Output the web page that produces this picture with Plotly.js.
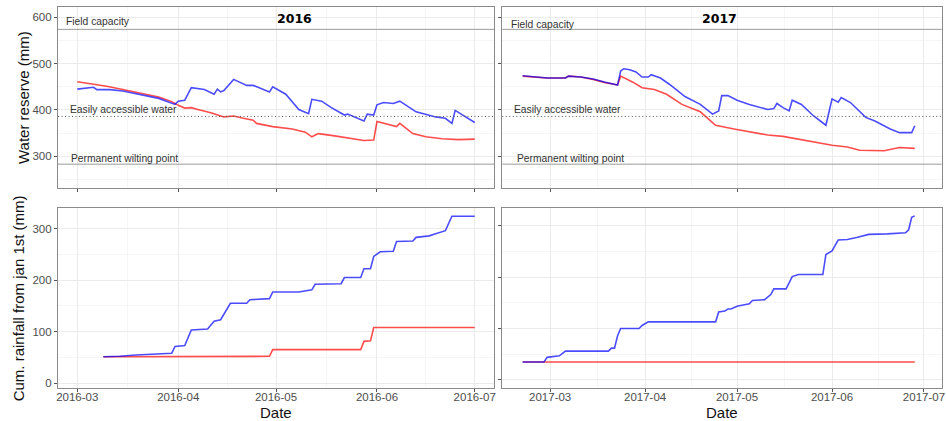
<!DOCTYPE html>
<html>
<head>
<meta charset="utf-8">
<script src="https://cdn.plot.ly/plotly-3.0.1.min.js"></script>
<style>html,body{margin:0;padding:0;background:#fff;}#chart{width:946px;height:421px;}</style>
</head>
<body>
<div id="chart"></div>
<script>
// ---------- DATA ----------
// Water reserve 2016
const resRedDates2016 = ['2016-03-01','2016-03-06','2016-03-10','2016-03-15','2016-03-20','2016-03-26','2016-03-30','2016-04-01','2016-04-03','2016-04-05','2016-04-07','2016-04-11','2016-04-15','2016-04-18','2016-04-21','2016-04-24','2016-04-25','2016-04-30','2016-05-06','2016-05-10','2016-05-12','2016-05-14','2016-05-19','2016-05-24','2016-05-28','2016-05-31','2016-06-01','2016-06-07','2016-06-08','2016-06-12','2016-06-16','2016-06-21','2016-06-26','2016-07-01'];
const resRed2016 = [461,456,451,444,436,428,418,410,404,405,401,394,385,387,382,378,371,364,359,352,342,349,344,339,334,335,375,364,371,349,342,338,336,337];
const resBlueDates2016 = ['2016-03-01','2016-03-06','2016-03-07','2016-03-11','2016-03-15','2016-03-20','2016-03-26','2016-03-31','2016-04-01','2016-04-03','2016-04-05','2016-04-09','2016-04-12','2016-04-13','2016-04-14','2016-04-15','2016-04-18','2016-04-22','2016-04-24','2016-04-29','2016-04-30','2016-05-04','2016-05-08','2016-05-11','2016-05-12','2016-05-15','2016-05-18','2016-05-22','2016-05-23','2016-05-28','2016-05-29','2016-05-31','2016-06-01','2016-06-03','2016-06-06','2016-06-08','2016-06-13','2016-06-19','2016-06-22','2016-06-24','2016-06-25','2016-07-01'];
const resBlue2016 = [445,449,444,444,441,434,425,412,419,421,448,444,434,445,439,442,466,453,453,439,450,434,401,392,423,419,405,389,391,376,391,389,411,416,414,419,396,385,382,371,399,373];

// Water reserve 2017
const resRedDates2017 = ['2017-02-20','2017-02-24','2017-02-28','2017-03-06','2017-03-07','2017-03-11','2017-03-15','2017-03-19','2017-03-23','2017-03-24','2017-03-28','2017-03-31','2017-04-04','2017-04-08','2017-04-13','2017-04-19','2017-04-24','2017-04-30','2017-05-05','2017-05-11','2017-05-16','2017-05-22','2017-05-27','2017-06-01','2017-06-06','2017-06-10','2017-06-18','2017-06-23','2017-06-28'];
const resRed2017 = [473,471,469,469,473,471,466,459,454,473,460,448,444,434,412,396,367,359,353,346,343,336,330,324,320,313,312,319,317];
const resBlueDates2017 = ['2017-02-20','2017-02-24','2017-02-28','2017-03-06','2017-03-07','2017-03-11','2017-03-15','2017-03-19','2017-03-23','2017-03-24','2017-03-25','2017-03-27','2017-03-29','2017-03-31','2017-04-02','2017-04-03','2017-04-06','2017-04-09','2017-04-14','2017-04-19','2017-04-23','2017-04-25','2017-04-26','2017-04-28','2017-05-01','2017-05-05','2017-05-08','2017-05-11','2017-05-13','2017-05-14','2017-05-16','2017-05-18','2017-05-19','2017-05-22','2017-05-26','2017-05-30','2017-06-01','2017-06-03','2017-06-04','2017-06-07','2017-06-12','2017-06-15','2017-06-20','2017-06-23','2017-06-27','2017-06-28'];
const resBlue2017 = [474,471,469,469,473,471,467,460,454,484,489,487,482,471,471,476,469,455,429,412,391,398,431,431,421,412,407,401,403,414,405,398,421,412,387,367,424,417,427,416,384,376,359,351,351,366];

// Cumulative rainfall 2016
const rainRedDates2016 = ['2016-03-09','2016-04-29','2016-04-30','2016-05-27','2016-05-28','2016-05-30','2016-05-31','2016-07-01'];
const rainRed2016 = [51,52,65,65,81,82,108,108];
const rainBlueDates2016 = ['2016-03-09','2016-03-14','2016-03-19','2016-03-24','2016-03-30','2016-03-31','2016-04-03','2016-04-05','2016-04-10','2016-04-12','2016-04-14','2016-04-17','2016-04-22','2016-04-23','2016-04-25','2016-04-29','2016-04-30','2016-05-08','2016-05-12','2016-05-13','2016-05-21','2016-05-22','2016-05-27','2016-05-28','2016-05-30','2016-05-31','2016-06-02','2016-06-06','2016-06-07','2016-06-12','2016-06-13','2016-06-17','2016-06-19','2016-06-22','2016-06-24','2016-07-01'];
const rainBlue2016 = [51,52,54.5,56.5,58,71,73,103,105,120,123,155,155,162,163,164,177,177,181,192,193,205,205,222,222,246,255,256,275,276,283,286,290,296,324,324];

// Cumulative rainfall 2017
const rainRedDates2017 = ['2017-02-20','2017-06-28'];
const rainRed2017 = [35,35];
const rainBlueDates2017 = ['2017-02-20','2017-02-27','2017-02-28','2017-03-02','2017-03-04','2017-03-06','2017-03-20','2017-03-21','2017-03-22','2017-03-23','2017-03-24','2017-03-30','2017-03-31','2017-04-02','2017-04-24','2017-04-25','2017-04-27','2017-04-28','2017-04-29','2017-05-01','2017-05-05','2017-05-06','2017-05-10','2017-05-12','2017-05-13','2017-05-17','2017-05-19','2017-05-21','2017-05-29','2017-05-30','2017-06-01','2017-06-03','2017-06-06','2017-06-09','2017-06-13','2017-06-19','2017-06-25','2017-06-26','2017-06-27','2017-06-28'];
const rainBlue2017 = [35,35,44,46,47,56,56,62,62,86,100,100,106,113,113,132,134,138,138,143.5,148,154.5,156,166,177,177,201,205,205,244,251,272,273,277,283,284,286,292,316,319];

// Reference levels (mm)
const levelNames = ['Field capacity','Easily accessible water','Permanent wilting point'];
const levelValues = [574, 386, 283];

// Axis ticks / labels
const panelTitles = ['2016','2017'];
const monthTicks2016 = ['2016-03-01','2016-04-01','2016-05-01','2016-06-01','2016-07-01'];
const monthTicks2017 = ['2017-03-01','2017-04-01','2017-05-01','2017-06-01','2017-07-01'];
const reserveTicks = [300,400,500,600];
const rainTicks = [0,100,200,300];
const yTitleTop = 'Water reserve (mm)';
const yTitleBottom = 'Cum. rainfall from jan 1st (mm)';
const xTitle = 'Date';

// ---------- STYLE / LAYOUT ----------
const W = 946, H = 421;
const px = v => v / W;
const py = v => 1 - v / H;
const RED = 'rgba(255,0,0,0.7)', BLUE = 'rgba(0,0,255,0.7)';
const FONT = 'Liberation Sans, Arial, sans-serif';

function midpointsDates(arr){
  const out=[];
  for(let i=0;i<arr.length-1;i++){
    const a=new Date(arr[i]+'T00:00:00Z').getTime(), b=new Date(arr[i+1]+'T00:00:00Z').getTime();
    const m=new Date((a+b)/2);
    out.push(m.toISOString().slice(0,19).replace('T',' '));
  }
  return out;
}
function midpointsNum(arr){const o=[];for(let i=0;i<arr.length-1;i++)o.push((arr[i]+arr[i+1])/2);if(arr.length>1){o.unshift(arr[0]-(arr[1]-arr[0])/2);o.push(arr[arr.length-1]+(arr[1]-arr[0])/2);}return o;}

const line = c => ({color:c, width:1.6});
const traces = [
  {x:resRedDates2016, y:resRed2016, xaxis:'x', yaxis:'y', mode:'lines', line:line(RED)},
  {x:resBlueDates2016, y:resBlue2016, xaxis:'x', yaxis:'y', mode:'lines', line:line(BLUE)},
  {x:resRedDates2017, y:resRed2017, xaxis:'x2', yaxis:'y2', mode:'lines', line:line(RED)},
  {x:resBlueDates2017, y:resBlue2017, xaxis:'x2', yaxis:'y2', mode:'lines', line:line(BLUE)},
  {x:rainRedDates2016, y:rainRed2016, xaxis:'x3', yaxis:'y3', mode:'lines', line:line(RED)},
  {x:rainBlueDates2016, y:rainBlue2016, xaxis:'x3', yaxis:'y3', mode:'lines', line:line(BLUE)},
  {x:rainRedDates2017, y:rainRed2017, xaxis:'x4', yaxis:'y4', mode:'lines', line:line(RED)},
  {x:rainBlueDates2017, y:rainBlue2017, xaxis:'x4', yaxis:'y4', mode:'lines', line:line(BLUE)}
];

const GRID = '#ebebeb', BORDER = '#8a8a8a', TICKC = '#555';
const baseAxis = {
  showline:true, mirror:true, linecolor:BORDER, linewidth:1.1,
  ticks:'outside', ticklen:3, tickcolor:TICKC, tickwidth:1,
  showgrid:true, gridcolor:GRID, gridwidth:1, zeroline:false,
  tickfont:{family:FONT, size:11.5, color:'#4d4d4d'}, fixedrange:true
};
function xAx(domain, range, ticks, labels){
  return Object.assign({}, baseAxis, {
    type:'date', domain:domain, range:range, tickmode:'array', tickvals:ticks,
    tickformat:'%Y-%m', showticklabels:labels, ticklabelstandoff:-5,
    minor:{tickmode:'array', tickvals:midpointsDates(ticks), showgrid:true, gridcolor:'#f2f2f2', gridwidth:0.7, ticks:''}
  });
}
function yAx(domain, range, ticks, labels){
  return Object.assign({}, baseAxis, {
    domain:domain, range:range, tickmode:'array', tickvals:ticks, showticklabels:labels,
    minor:{tickmode:'array', tickvals:midpointsNum(ticks), showgrid:true, gridcolor:'#f2f2f2', gridwidth:0.7, ticks:''}
  });
}
const xL = [px(58), px(494)], xR = [px(502.3), px(941.7)];
const yT = [py(188.3), py(7.3)], yB = [py(387.7), py(208.3)];
const rangeL = ['2016-02-24 02:00','2016-07-06 22:00'];
const rangeR = ['2017-02-13 09:00','2017-07-06 19:00'];

const shapes = [];
const dashes = ['solid','1px,2.5px','solid'];
const lcols = ['#9a9a9a','#555','#9a9a9a'];
[['x','y'],['x2','y2']].forEach(([xa,ya])=>{
  levelValues.forEach((v,i)=>{
    shapes.push({type:'line', xref:xa+' domain', yref:ya, x0:0, x1:1, y0:v, y1:v,
      line:{color:lcols[i], width:1, dash:dashes[i]}, layer:'above'});
  });
});

const annotations = [];
// threshold labels: [x px start, y value] for left and right panels
const labelPosL = [[64,592],[68,400],[69,296]];
const labelPosR = [[509,585.5],[511.5,400],[514.5,296]];
levelNames.forEach((t,i)=>{
  annotations.push({text:t, xref:'paper', yref:'y', x:px(labelPosL[i][0]), y:labelPosL[i][1], xanchor:'left', yanchor:'middle', showarrow:false, font:{family:FONT, size:10.3, color:'#333'}});
  annotations.push({text:t, xref:'paper', yref:'y2', x:px(labelPosR[i][0]), y:labelPosR[i][1], xanchor:'left', yanchor:'middle', showarrow:false, font:{family:FONT, size:10.3, color:'#333'}});
});
annotations.push({text:'<b>'+panelTitles[0]+'</b>', xref:'paper', yref:'paper', x:px(294.5), y:py(18.3), xanchor:'center', yanchor:'middle', showarrow:false, font:{family:'DejaVu Sans, sans-serif', size:12.5, color:'#000'}});
annotations.push({text:'<b>'+panelTitles[1]+'</b>', xref:'paper', yref:'paper', x:px(719.7), y:py(18.3), xanchor:'center', yanchor:'middle', showarrow:false, font:{family:'DejaVu Sans, sans-serif', size:12.5, color:'#000'}});
annotations.push({text:yTitleTop, xref:'paper', yref:'paper', x:px(23.3), y:py(97.7), xanchor:'center', yanchor:'middle', textangle:-90, showarrow:false, font:{family:FONT, size:15, color:'#111'}});
annotations.push({text:yTitleBottom, xref:'paper', yref:'paper', x:px(18.3), y:py(298), xanchor:'center', yanchor:'middle', textangle:-90, showarrow:false, font:{family:FONT, size:15, color:'#111'}});
annotations.push({text:xTitle, xref:'paper', yref:'paper', x:px(276), y:py(412), xanchor:'center', yanchor:'middle', showarrow:false, font:{family:FONT, size:15, color:'#111'}});
annotations.push({text:xTitle, xref:'paper', yref:'paper', x:px(722), y:py(412), xanchor:'center', yanchor:'middle', showarrow:false, font:{family:FONT, size:15, color:'#111'}});

const layout = {
  width:W, height:H, margin:{l:0,r:0,t:0,b:0,pad:0},
  paper_bgcolor:'#fff', plot_bgcolor:'#fff', showlegend:false,
  xaxis: xAx(xL, rangeL, monthTicks2016, false),
  yaxis: yAx(yT, [230.9, 621.6], reserveTicks, true),
  xaxis2: xAx(xR, rangeR, monthTicks2017, false),
  yaxis2: yAx(yT, [230.9, 621.6], reserveTicks, false),
  xaxis3: xAx(xL, rangeL, monthTicks2016, true),
  yaxis3: yAx(yB, [-9, 339.5], rainTicks, true),
  xaxis4: xAx(xR, rangeR, monthTicks2017, true),
  yaxis4: yAx(yB, [-15, 333.7], rainTicks, false),
  shapes:shapes, annotations:annotations
};
layout.xaxis.anchor='y'; layout.yaxis.anchor='x';
layout.xaxis2.anchor='y2'; layout.yaxis2.anchor='x2';
layout.xaxis3.anchor='y3'; layout.yaxis3.anchor='x3';
layout.xaxis4.anchor='y4'; layout.yaxis4.anchor='x4';

Plotly.newPlot('chart', traces, layout, {staticPlot:true, displayModeBar:false});
</script>
</body>
</html>
